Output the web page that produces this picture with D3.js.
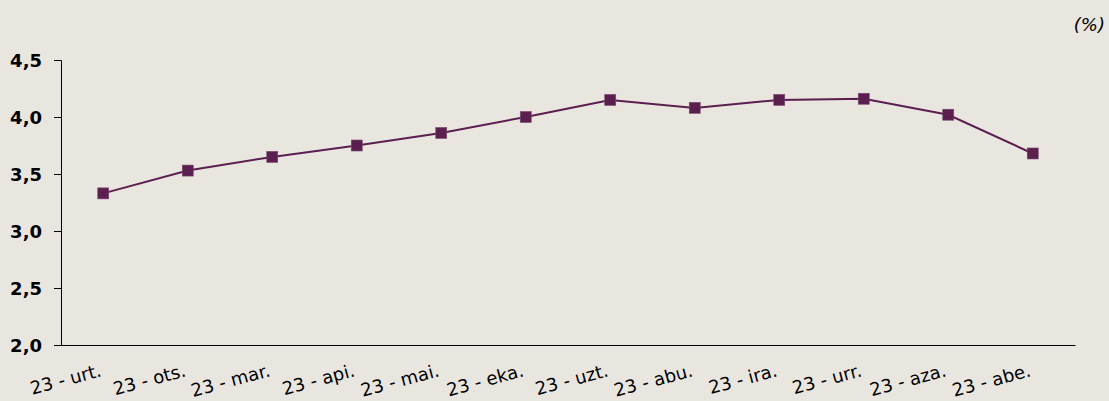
<!DOCTYPE html>
<html><head><meta charset="utf-8">
<script src="https://cdn.jsdelivr.net/npm/d3@7"></script>
<style>html,body{margin:0;padding:0;background:#e9e6e0;}svg{display:block;}</style>
</head><body>
<svg id="c" width="1109" height="401"></svg>
<script>
const categories = ["23 - urt.","23 - ots.","23 - mar.","23 - api.","23 - mai.","23 - eka.","23 - uzt.","23 - abu.","23 - ira.","23 - urr.","23 - aza.","23 - abe."];
const values = [3.33, 3.53, 3.65, 3.75, 3.86, 4.00, 4.15, 4.08, 4.15, 4.16, 4.02, 3.68];
const yTicks = [2.0, 2.5, 3.0, 3.5, 4.0, 4.5];
const unitLabel = "(%)";

const svg = d3.select("#c");
const W = 1109, H = 401;
svg.append("rect").attr("width", W).attr("height", H).attr("fill", "#e9e6e0");

const m = {left: 61, right: 1075, top: 60, bottom: 345};
const x = d3.scaleBand().domain(categories).range([m.left, m.right]);
const y = d3.scaleLinear().domain([2.0, 4.5]).range([m.bottom, m.top]);
const fmt = d => d.toFixed(1).replace(".", ",");

// Y axis
const ya = svg.append("g").attr("transform", `translate(${m.left},0)`)
  .call(d3.axisLeft(y).tickValues(yTicks).tickFormat(fmt).tickSize(7).tickPadding(12));
ya.select(".domain").attr("stroke", "#000").attr("stroke-width", 1);
ya.selectAll(".tick line").attr("stroke", "#000");
ya.selectAll(".tick text").attr("font-family", "DejaVu Sans").attr("font-weight", "bold")
  .attr("font-size", 18).attr("fill", "#000").attr("dy", "0.36em");

// X axis
const xa = svg.append("g").attr("transform", `translate(0,${m.bottom})`)
  .call(d3.axisBottom(x).tickSize(0).tickFormat(""));
xa.select(".domain").attr("stroke", "#000").attr("stroke-width", 1);

svg.append("g").selectAll("text").data(categories).join("text")
  .attr("transform", d => `translate(${x(d) + x.bandwidth()/2 - 1},${376}) rotate(-15)`)
  .attr("text-anchor", "end")
  .attr("font-family", "DejaVu Sans").attr("font-size", 18).attr("fill", "#000")
  .text(d => d);

// Line
const cx = d => x(d) + x.bandwidth()/2;
const line = d3.line().x((d,i) => cx(categories[i])).y(d => y(d));
svg.append("path").datum(values).attr("d", line)
  .attr("fill", "none").attr("stroke", "#5b1f4f").attr("stroke-width", 2);

const s = 11;
svg.append("g").selectAll("rect").data(values).join("rect")
  .attr("x", (d,i) => cx(categories[i]) - s/2)
  .attr("y", d => y(d) - s/2)
  .attr("width", s).attr("height", s)
  .attr("fill", "#5a1f4e").attr("stroke", "#7a4a6e").attr("stroke-width", 0.6);

svg.append("text").attr("x", 1105).attr("y", 31).attr("text-anchor", "end")
  .attr("font-family", "DejaVu Sans").attr("font-style", "italic").attr("font-size", 18)
  .attr("fill", "#000").text(unitLabel);
</script>
</body></html>
